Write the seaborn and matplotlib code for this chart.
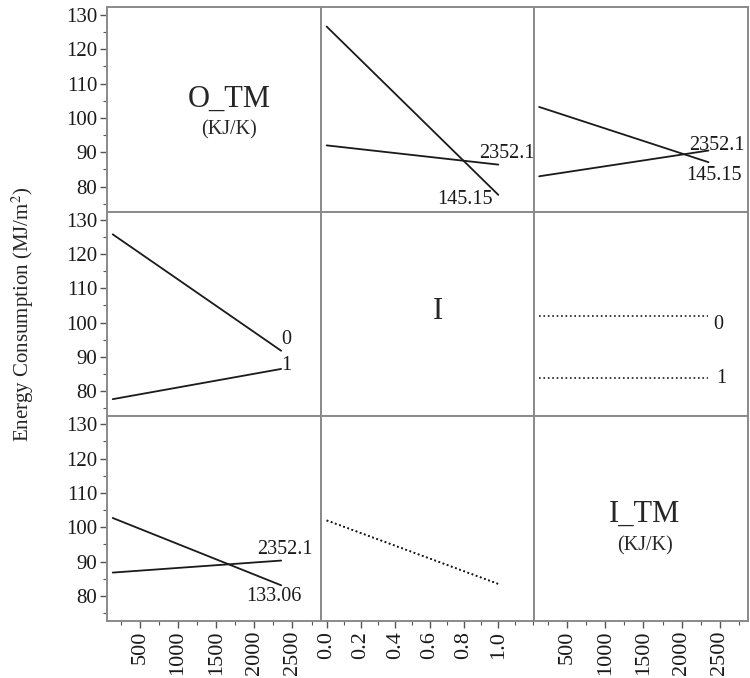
import matplotlib
matplotlib.use("Agg")
import matplotlib.pyplot as plt
import seaborn as sns
import pandas as pd
from matplotlib.ticker import MultipleLocator

# ---------------- data ----------------
factor_names = ["O_TM", "I", "I_TM"]
factor_units = ["(KJ/K)", "", "(KJ/K)"]
otm_levels = [145.15, 2352.1]
i_levels = [0, 1]
itm_levels = [133.06, 2352.1]
otm_labels = ["145.15", "2352.1"]
i_labels = ["0", "1"]
itm_labels = ["133.06", "2352.1"]

# row O_TM (traces = O_TM levels)
otm_vs_i = {"145.15": [126.6, 77.6], "2352.1": [92.0, 86.4]}
otm_vs_itm = {"145.15": [103.2, 87.1], "2352.1": [83.0, 90.5]}
# row I (traces = I levels)
i_vs_otm = {"0": [125.7, 91.8], "1": [77.7, 86.5]}
i_vs_itm = {"0": [102.0, 102.0], "1": [83.8, 83.8]}
# row I_TM (traces = I_TM levels)
itm_vs_otm = {"133.06": [102.7, 83.1], "2352.1": [86.8, 90.3]}
itm_vs_i = {"133.06": [102.0, 83.5], "2352.1": [102.0, 83.5]}

y_label = "Energy Consumption (MJ/m$^2$)"
x_ticks_tm = [500, 1000, 1500, 2000, 2500]
x_ticks_i = [0.0, 0.2, 0.4, 0.6, 0.8, 1.0]
y_ticks = [80, 90, 100, 110, 120, 130]

# ---------------- style ----------------
sns.set_style("white")
plt.rcParams["font.family"] = ["Liberation Serif", "DejaVu Serif"]
plt.rcParams["mathtext.fontset"] = "stix"

fig, axes = plt.subplots(3, 3, figsize=(7.5, 6.78), dpi=100)
fig.subplots_adjust(left=107/750, right=748/750, top=1-7/678, bottom=1-621/678,
                    wspace=0, hspace=0)

xlims = [(70, 2870), (-0.035, 1.21), (70, 2870)]
ylim = (72.7, 132.3)
frame_col = "#8a8a8a"
lab_fs = 14.5

# cells: (row, col) -> (x levels, dict of traces, linestyle, label placements)
cells = {
    (0, 1): (i_levels, otm_vs_i, "-",
             {"145.15": ("right", (-6, -5)), "2352.1": ("left", (-19, 11))}),
    (0, 2): (itm_levels, otm_vs_itm, "-",
             {"145.15": ("left", (-22, -13)), "2352.1": ("left", (-19, 5))}),
    (1, 0): (otm_levels, i_vs_otm, "-",
             {"0": ("left", (0, 11)), "1": ("left", (0, 3))}),
    (1, 2): (itm_levels, i_vs_itm, ":",
             {"0": ("left", (5, -9)), "1": ("left", (8, 0))}),
    (2, 0): (otm_levels, itm_vs_otm, "-",
             {"133.06": ("right", (20, -11)), "2352.1": ("left", (-24, 11))}),
    (2, 1): (i_levels, itm_vs_i, ":", {}),
}

for r in range(3):
    for c in range(3):
        ax = axes[r, c]
        ax.set_xlim(*xlims[c])
        ax.set_ylim(*ylim)
        for s in ax.spines.values():
            s.set_color(frame_col)
            s.set_linewidth(1.4)
        if (r, c) in cells:
            xs, traces, ls, labs = cells[(r, c)]
            for name, ys in traces.items():
                df = pd.DataFrame({"x": xs, "y": ys})
                sns.lineplot(data=df, x="x", y="y", ax=ax, color="#1a1a1a",
                             linestyle=ls, linewidth=1.3 if ls == "-" else 1.2,
                             estimator=None, sort=False)
                if name in labs:
                    ha, off = labs[name]
                    ax.annotate(name, xy=(xs[-1], ys[-1]), xytext=off,
                                textcoords="offset pixels", ha=ha, va="center",
                                fontsize=lab_fs, color="#1a1a1a")
        ax.set_xlabel("")
        ax.set_ylabel("")
        # ticks
        if c == 1:
            ax.set_xticks(x_ticks_i)
            ax.xaxis.set_minor_locator(MultipleLocator(0.1))
        else:
            ax.set_xticks(x_ticks_tm)
            ax.xaxis.set_minor_locator(MultipleLocator(250))
        ax.set_yticks(y_ticks)
        ax.yaxis.set_minor_locator(MultipleLocator(5))
        ax.tick_params(axis="both", which="both", direction="out", color="#555555",
                       labelcolor="#1a1a1a")
        ax.tick_params(axis="both", which="major", length=5, width=1, pad=2)
        ax.tick_params(axis="both", which="minor", length=3, width=0.8)
        if r == 2:
            ax.tick_params(axis="x", which="both", bottom=True, labelbottom=True,
                           labelsize=16, labelrotation=90)
            if c == 1:
                ax.set_xticklabels([f"{v:.1f}" for v in x_ticks_i])
            else:
                ax.set_xticklabels([str(v) for v in x_ticks_tm])
        else:
            ax.tick_params(axis="x", which="both", bottom=False, labelbottom=False)
        if c == 0:
            ax.tick_params(axis="y", which="both", left=True, labelleft=True,
                           labelsize=15)
        else:
            ax.tick_params(axis="y", which="both", left=False, labelleft=False)

# diagonal labels
axes[0, 0].text(0.57, 0.55, factor_names[0], transform=axes[0, 0].transAxes,
                ha="center", va="center", fontsize=22)
axes[0, 0].text(0.57, 0.40, factor_units[0], transform=axes[0, 0].transAxes,
                ha="center", va="center", fontsize=14.5)
axes[1, 1].text(0.547, 0.51, factor_names[1], transform=axes[1, 1].transAxes,
                ha="center", va="center", fontsize=22)
axes[2, 2].text(0.516, 0.52, factor_names[2], transform=axes[2, 2].transAxes,
                ha="center", va="center", fontsize=22)
axes[2, 2].text(0.516, 0.365, factor_units[2], transform=axes[2, 2].transAxes,
                ha="center", va="center", fontsize=14.5)

fig.text(23/750, 1-314/678, y_label, rotation=90, ha="center", va="center",
         fontsize=15)

fig.savefig("out.png", dpi=100)
